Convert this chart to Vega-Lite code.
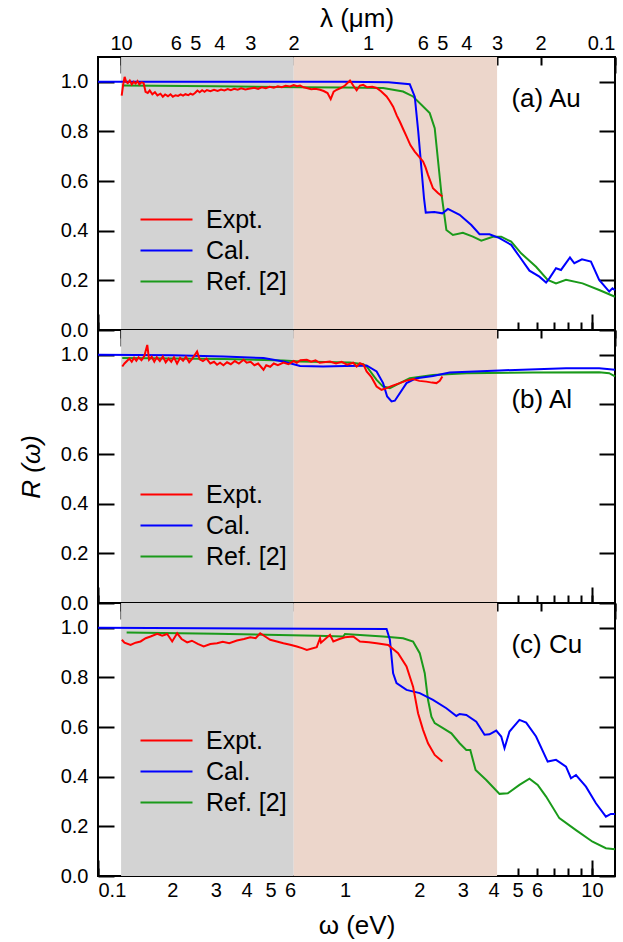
{
"$schema": "https://vega.github.io/schema/vega-lite/v6.json",
"padding": {"left": 17, "top": 4, "right": 0, "bottom": 0},
"datasets": {
"bands": [{"x": 0.124, "x2": 0.62, "band": "IR"}, {"x": 0.62, "x2": 4.13, "band": "vis"}],
"au": [
{"E":0.1254,"R":0.985,"series":"Ref. [2]"},{"E":0.3,"R":0.982,"series":"Ref. [2]"},{"E":0.658,"R":0.978,"series":"Ref. [2]"},{"E":1.0,"R":0.977,"series":"Ref. [2]"},{"E":1.427,"R":0.975,"series":"Ref. [2]"},{"E":1.719,"R":0.961,"series":"Ref. [2]"},{"E":1.887,"R":0.941,"series":"Ref. [2]"},{"E":2.204,"R":0.874,"series":"Ref. [2]"},{"E":2.309,"R":0.813,"series":"Ref. [2]"},{"E":2.38,"R":0.685,"series":"Ref. [2]"},{"E":2.457,"R":0.551,"series":"Ref. [2]"},{"E":2.574,"R":0.403,"series":"Ref. [2]"},{"E":2.736,"R":0.383,"series":"Ref. [2]"},{"E":3.003,"R":0.392,"series":"Ref. [2]"},{"E":3.296,"R":0.376,"series":"Ref. [2]"},{"E":3.564,"R":0.36,"series":"Ref. [2]"},{"E":3.97,"R":0.376,"series":"Ref. [2]"},{"E":4.293,"R":0.376,"series":"Ref. [2]"},{"E":4.71,"R":0.356,"series":"Ref. [2]"},{"E":5.169,"R":0.309,"series":"Ref. [2]"},{"E":5.94,"R":0.255,"series":"Ref. [2]"},{"E":6.62,"R":0.202,"series":"Ref. [2]"},{"E":7.155,"R":0.188,"series":"Ref. [2]"},{"E":7.853,"R":0.202,"series":"Ref. [2]"},{"E":9.163,"R":0.188,"series":"Ref. [2]"},{"E":10.7,"R":0.161,"series":"Ref. [2]"},{"E":12.4,"R":0.134,"series":"Ref. [2]"},
{"E":0.1,"R":1.0,"series":"Cal."},{"E":1.0,"R":1.0,"series":"Cal."},{"E":1.5,"R":0.998,"series":"Cal."},{"E":1.83,"R":0.99,"series":"Cal."},{"E":1.917,"R":0.94,"series":"Cal."},{"E":1.98,"R":0.8,"series":"Cal."},{"E":2.04,"R":0.65,"series":"Cal."},{"E":2.09,"R":0.53,"series":"Cal."},{"E":2.124,"R":0.473,"series":"Cal."},{"E":2.3,"R":0.475,"series":"Cal."},{"E":2.48,"R":0.47,"series":"Cal."},{"E":2.612,"R":0.488,"series":"Cal."},{"E":2.913,"R":0.464,"series":"Cal."},{"E":3.248,"R":0.423,"series":"Cal."},{"E":3.508,"R":0.386,"series":"Cal."},{"E":3.849,"R":0.386,"series":"Cal."},{"E":4.224,"R":0.37,"series":"Cal."},{"E":4.71,"R":0.343,"series":"Cal."},{"E":5.087,"R":0.296,"series":"Cal."},{"E":5.585,"R":0.239,"series":"Cal."},{"E":6.128,"R":0.215,"series":"Cal."},{"E":6.522,"R":0.191,"series":"Cal."},{"E":6.725,"R":0.208,"series":"Cal."},{"E":7.155,"R":0.249,"series":"Cal."},{"E":7.496,"R":0.242,"series":"Cal."},{"E":8.15,"R":0.292,"series":"Cal."},{"E":8.485,"R":0.269,"series":"Cal."},{"E":9.113,"R":0.285,"series":"Cal."},{"E":9.908,"R":0.276,"series":"Cal."},{"E":10.7,"R":0.202,"series":"Cal."},{"E":11.75,"R":0.155,"series":"Cal."},{"E":12.11,"R":0.168,"series":"Cal."},{"E":12.4,"R":0.16,"series":"Cal."},
{"E":0.1247,"R":0.944,"series":"Expt."},{"E":0.1265,"R":0.99,"series":"Expt."},{"E":0.1282,"R":1.02,"series":"Expt."},{"E":0.13,"R":1.0,"series":"Expt."},{"E":0.132,"R":0.995,"series":"Expt."},{"E":0.1345,"R":1.005,"series":"Expt."},{"E":0.137,"R":0.99,"series":"Expt."},{"E":0.1395,"R":1.0,"series":"Expt."},{"E":0.142,"R":0.993,"series":"Expt."},{"E":0.1445,"R":1.003,"series":"Expt."},{"E":0.147,"R":0.99,"series":"Expt."},{"E":0.15,"R":0.998,"series":"Expt."},{"E":0.153,"R":0.995,"series":"Expt."},{"E":0.1558,"R":0.96,"series":"Expt."},{"E":0.159,"R":0.955,"series":"Expt."},{"E":0.162,"R":0.965,"series":"Expt."},{"E":0.166,"R":0.95,"series":"Expt."},{"E":0.17,"R":0.958,"series":"Expt."},{"E":0.174,"R":0.945,"series":"Expt."},{"E":0.179,"R":0.952,"series":"Expt."},{"E":0.183,"R":0.94,"series":"Expt."},{"E":0.187,"R":0.949,"series":"Expt."},{"E":0.192,"R":0.942,"series":"Expt."},{"E":0.1966,"R":0.95,"series":"Expt."},{"E":0.201,"R":0.94,"series":"Expt."},{"E":0.206,"R":0.946,"series":"Expt."},{"E":0.211,"R":0.943,"series":"Expt."},{"E":0.216,"R":0.949,"series":"Expt."},{"E":0.221,"R":0.944,"series":"Expt."},{"E":0.226,"R":0.95,"series":"Expt."},{"E":0.232,"R":0.946,"series":"Expt."},{"E":0.2367,"R":0.952,"series":"Expt."},{"E":0.242,"R":0.948,"series":"Expt."},{"E":0.247,"R":0.955,"series":"Expt."},{"E":0.2527,"R":0.965,"series":"Expt."},{"E":0.258,"R":0.958,"series":"Expt."},{"E":0.264,"R":0.966,"series":"Expt."},{"E":0.27,"R":0.96,"series":"Expt."},{"E":0.276,"R":0.967,"series":"Expt."},{"E":0.2851,"R":0.962,"series":"Expt."},{"E":0.295,"R":0.968,"series":"Expt."},{"E":0.305,"R":0.963,"series":"Expt."},{"E":0.315,"R":0.969,"series":"Expt."},{"E":0.325,"R":0.965,"series":"Expt."},{"E":0.335,"R":0.971,"series":"Expt."},{"E":0.345,"R":0.966,"series":"Expt."},{"E":0.356,"R":0.972,"series":"Expt."},{"E":0.368,"R":0.968,"series":"Expt."},{"E":0.38,"R":0.974,"series":"Expt."},{"E":0.395,"R":0.969,"series":"Expt."},{"E":0.4135,"R":0.973,"series":"Expt."},{"E":0.43,"R":0.976,"series":"Expt."},{"E":0.445,"R":0.971,"series":"Expt."},{"E":0.46,"R":0.978,"series":"Expt."},{"E":0.478,"R":0.974,"series":"Expt."},{"E":0.495,"R":0.98,"series":"Expt."},{"E":0.515,"R":0.976,"series":"Expt."},{"E":0.535,"R":0.982,"series":"Expt."},{"E":0.555,"R":0.978,"series":"Expt."},{"E":0.575,"R":0.984,"series":"Expt."},{"E":0.5998,"R":0.981,"series":"Expt."},{"E":0.62,"R":0.987,"series":"Expt."},{"E":0.64,"R":0.982,"series":"Expt."},{"E":0.658,"R":0.985,"series":"Expt."},{"E":0.68,"R":0.978,"series":"Expt."},{"E":0.7,"R":0.975,"series":"Expt."},{"E":0.73,"R":0.97,"series":"Expt."},{"E":0.76,"R":0.972,"series":"Expt."},{"E":0.7925,"R":0.968,"series":"Expt."},{"E":0.82,"R":0.963,"series":"Expt."},{"E":0.85,"R":0.955,"series":"Expt."},{"E":0.8756,"R":0.93,"series":"Expt."},{"E":0.9,"R":0.96,"series":"Expt."},{"E":0.9258,"R":0.968,"series":"Expt."},{"E":0.96,"R":0.975,"series":"Expt."},{"E":1.0,"R":0.985,"series":"Expt."},{"E":1.048,"R":1.005,"series":"Expt."},{"E":1.08,"R":0.985,"series":"Expt."},{"E":1.115,"R":0.966,"series":"Expt."},{"E":1.15,"R":0.985,"series":"Expt."},{"E":1.186,"R":0.988,"series":"Expt."},{"E":1.23,"R":0.978,"series":"Expt."},{"E":1.29,"R":0.98,"series":"Expt."},{"E":1.343,"R":0.975,"series":"Expt."},{"E":1.4,"R":0.962,"series":"Expt."},{"E":1.474,"R":0.941,"series":"Expt."},{"E":1.52,"R":0.922,"series":"Expt."},{"E":1.567,"R":0.9,"series":"Expt."},{"E":1.62,"R":0.865,"series":"Expt."},{"E":1.667,"R":0.84,"series":"Expt."},{"E":1.72,"R":0.81,"series":"Expt."},{"E":1.775,"R":0.78,"series":"Expt."},{"E":1.84,"R":0.745,"series":"Expt."},{"E":1.917,"R":0.719,"series":"Expt."},{"E":1.99,"R":0.7,"series":"Expt."},{"E":2.071,"R":0.679,"series":"Expt."},{"E":2.12,"R":0.655,"series":"Expt."},{"E":2.169,"R":0.625,"series":"Expt."},{"E":2.22,"R":0.598,"series":"Expt."},{"E":2.272,"R":0.571,"series":"Expt."},{"E":2.38,"R":0.552,"series":"Expt."},{"E":2.48,"R":0.538,"series":"Expt."}
],
"al": [
{"E":0.1254,"R":0.987,"series":"Ref. [2]"},{"E":0.3226,"R":0.983,"series":"Ref. [2]"},{"E":0.5633,"R":0.977,"series":"Ref. [2]"},{"E":0.658,"R":0.973,"series":"Ref. [2]"},{"E":1.048,"R":0.969,"series":"Ref. [2]"},{"E":1.186,"R":0.962,"series":"Ref. [2]"},{"E":1.224,"R":0.953,"series":"Ref. [2]"},{"E":1.343,"R":0.899,"series":"Ref. [2]"},{"E":1.427,"R":0.872,"series":"Ref. [2]"},{"E":1.52,"R":0.866,"series":"Ref. [2]"},{"E":1.667,"R":0.886,"series":"Ref. [2]"},{"E":1.83,"R":0.906,"series":"Ref. [2]"},{"E":2.272,"R":0.919,"series":"Ref. [2]"},{"E":3.1,"R":0.926,"series":"Ref. [2]"},{"E":5.757,"R":0.929,"series":"Ref. [2]"},{"E":10.7,"R":0.93,"series":"Ref. [2]"},{"E":11.75,"R":0.926,"series":"Ref. [2]"},{"E":12.4,"R":0.913,"series":"Ref. [2]"},
{"E":0.1,"R":1.0,"series":"Cal."},{"E":0.2,"R":0.998,"series":"Cal."},{"E":0.3226,"R":0.993,"series":"Cal."},{"E":0.468,"R":0.987,"series":"Cal."},{"E":0.5633,"R":0.973,"series":"Cal."},{"E":0.658,"R":0.955,"series":"Cal."},{"E":0.815,"R":0.953,"series":"Cal."},{"E":1.0,"R":0.955,"series":"Cal."},{"E":1.186,"R":0.956,"series":"Cal."},{"E":1.224,"R":0.957,"series":"Cal."},{"E":1.343,"R":0.933,"series":"Cal."},{"E":1.427,"R":0.886,"series":"Cal."},{"E":1.482,"R":0.832,"series":"Cal."},{"E":1.544,"R":0.812,"series":"Cal."},{"E":1.592,"R":0.815,"series":"Cal."},{"E":1.775,"R":0.886,"series":"Cal."},{"E":1.948,"R":0.906,"series":"Cal."},{"E":2.272,"R":0.915,"series":"Cal."},{"E":2.654,"R":0.929,"series":"Cal."},{"E":4.224,"R":0.937,"series":"Cal."},{"E":7.853,"R":0.946,"series":"Cal."},{"E":10.7,"R":0.946,"series":"Cal."},{"E":12.4,"R":0.94,"series":"Cal."},
{"E":0.1254,"R":0.953,"series":"Expt."},{"E":0.128,"R":0.965,"series":"Expt."},{"E":0.131,"R":0.975,"series":"Expt."},{"E":0.134,"R":0.985,"series":"Expt."},{"E":0.137,"R":0.972,"series":"Expt."},{"E":0.14,"R":0.988,"series":"Expt."},{"E":0.143,"R":0.976,"series":"Expt."},{"E":0.146,"R":0.99,"series":"Expt."},{"E":0.15,"R":0.978,"series":"Expt."},{"E":0.154,"R":0.995,"series":"Expt."},{"E":0.1583,"R":1.04,"series":"Expt."},{"E":0.161,"R":0.98,"series":"Expt."},{"E":0.165,"R":0.992,"series":"Expt."},{"E":0.169,"R":0.972,"series":"Expt."},{"E":0.173,"R":0.99,"series":"Expt."},{"E":0.178,"R":0.975,"series":"Expt."},{"E":0.183,"R":0.993,"series":"Expt."},{"E":0.188,"R":0.97,"series":"Expt."},{"E":0.193,"R":0.985,"series":"Expt."},{"E":0.198,"R":0.972,"series":"Expt."},{"E":0.203,"R":0.99,"series":"Expt."},{"E":0.209,"R":0.965,"series":"Expt."},{"E":0.215,"R":0.988,"series":"Expt."},{"E":0.221,"R":0.976,"series":"Expt."},{"E":0.227,"R":0.992,"series":"Expt."},{"E":0.234,"R":0.97,"series":"Expt."},{"E":0.241,"R":0.985,"series":"Expt."},{"E":0.2519,"R":1.013,"series":"Expt."},{"E":0.258,"R":0.982,"series":"Expt."},{"E":0.266,"R":0.975,"series":"Expt."},{"E":0.275,"R":0.985,"series":"Expt."},{"E":0.285,"R":0.965,"series":"Expt."},{"E":0.295,"R":0.972,"series":"Expt."},{"E":0.3034,"R":0.96,"series":"Expt."},{"E":0.312,"R":0.968,"series":"Expt."},{"E":0.322,"R":0.958,"series":"Expt."},{"E":0.333,"R":0.97,"series":"Expt."},{"E":0.345,"R":0.962,"series":"Expt."},{"E":0.358,"R":0.975,"series":"Expt."},{"E":0.372,"R":0.965,"series":"Expt."},{"E":0.3885,"R":0.98,"series":"Expt."},{"E":0.4,"R":0.968,"series":"Expt."},{"E":0.415,"R":0.972,"series":"Expt."},{"E":0.43,"R":0.958,"series":"Expt."},{"E":0.445,"R":0.965,"series":"Expt."},{"E":0.468,"R":0.94,"series":"Expt."},{"E":0.48,"R":0.958,"series":"Expt."},{"E":0.4981,"R":0.952,"series":"Expt."},{"E":0.515,"R":0.965,"series":"Expt."},{"E":0.535,"R":0.958,"series":"Expt."},{"E":0.5633,"R":0.969,"series":"Expt."},{"E":0.59,"R":0.962,"series":"Expt."},{"E":0.62,"R":0.975,"series":"Expt."},{"E":0.6383,"R":0.968,"series":"Expt."},{"E":0.66,"R":0.978,"series":"Expt."},{"E":0.7005,"R":0.98,"series":"Expt."},{"E":0.73,"R":0.972,"series":"Expt."},{"E":0.76,"R":0.978,"series":"Expt."},{"E":0.79,"R":0.968,"series":"Expt."},{"E":0.8697,"R":0.973,"series":"Expt."},{"E":0.92,"R":0.965,"series":"Expt."},{"E":0.97,"R":0.972,"series":"Expt."},{"E":1.02,"R":0.96,"series":"Expt."},{"E":1.08,"R":0.968,"series":"Expt."},{"E":1.115,"R":0.953,"series":"Expt."},{"E":1.15,"R":0.966,"series":"Expt."},{"E":1.19,"R":0.96,"series":"Expt."},{"E":1.224,"R":0.933,"series":"Expt."},{"E":1.28,"R":0.91,"series":"Expt."},{"E":1.343,"R":0.872,"series":"Expt."},{"E":1.406,"R":0.859,"series":"Expt."},{"E":1.474,"R":0.866,"series":"Expt."},{"E":1.55,"R":0.875,"series":"Expt."},{"E":1.667,"R":0.886,"series":"Expt."},{"E":1.76,"R":0.895,"series":"Expt."},{"E":1.887,"R":0.902,"series":"Expt."},{"E":2.0,"R":0.895,"series":"Expt."},{"E":2.137,"R":0.892,"series":"Expt."},{"E":2.25,"R":0.888,"series":"Expt."},{"E":2.346,"R":0.886,"series":"Expt."},{"E":2.42,"R":0.895,"series":"Expt."},{"E":2.48,"R":0.913,"series":"Expt."}
],
"cu": [
{"E":0.1306,"R":0.981,"series":"Ref. [2]"},{"E":0.3,"R":0.976,"series":"Ref. [2]"},{"E":0.7686,"R":0.968,"series":"Ref. [2]"},{"E":0.9843,"R":0.965,"series":"Ref. [2]"},{"E":1.0,"R":0.975,"series":"Ref. [2]"},{"E":1.427,"R":0.965,"series":"Ref. [2]"},{"E":1.719,"R":0.958,"series":"Ref. [2]"},{"E":1.887,"R":0.945,"series":"Ref. [2]"},{"E":2.008,"R":0.898,"series":"Ref. [2]"},{"E":2.104,"R":0.817,"series":"Ref. [2]"},{"E":2.169,"R":0.71,"series":"Ref. [2]"},{"E":2.239,"R":0.642,"series":"Ref. [2]"},{"E":2.309,"R":0.616,"series":"Ref. [2]"},{"E":2.494,"R":0.596,"series":"Ref. [2]"},{"E":2.697,"R":0.575,"series":"Ref. [2]"},{"E":2.913,"R":0.535,"series":"Ref. [2]"},{"E":3.1,"R":0.508,"series":"Ref. [2]"},{"E":3.217,"R":0.508,"series":"Ref. [2]"},{"E":3.38,"R":0.427,"series":"Ref. [2]"},{"E":3.733,"R":0.387,"series":"Ref. [2]"},{"E":4.224,"R":0.331,"series":"Ref. [2]"},{"E":4.564,"R":0.333,"series":"Ref. [2]"},{"E":5.087,"R":0.367,"series":"Ref. [2]"},{"E":5.585,"R":0.392,"series":"Ref. [2]"},{"E":6.032,"R":0.367,"series":"Ref. [2]"},{"E":6.522,"R":0.32,"series":"Ref. [2]"},{"E":7.379,"R":0.233,"series":"Ref. [2]"},{"E":8.618,"R":0.185,"series":"Ref. [2]"},{"E":10.06,"R":0.138,"series":"Ref. [2]"},{"E":11.39,"R":0.112,"series":"Ref. [2]"},{"E":12.4,"R":0.108,"series":"Ref. [2]"},
{"E":0.1,"R":1.0,"series":"Cal."},{"E":1.474,"R":0.995,"series":"Cal."},{"E":1.52,"R":0.952,"series":"Cal."},{"E":1.567,"R":0.817,"series":"Cal."},{"E":1.617,"R":0.777,"series":"Cal."},{"E":1.775,"R":0.75,"series":"Cal."},{"E":2.008,"R":0.737,"series":"Cal."},{"E":2.272,"R":0.71,"series":"Cal."},{"E":2.574,"R":0.676,"series":"Cal."},{"E":2.825,"R":0.645,"series":"Cal."},{"E":2.913,"R":0.653,"series":"Cal."},{"E":3.1,"R":0.649,"series":"Cal."},{"E":3.402,"R":0.622,"series":"Cal."},{"E":3.674,"R":0.569,"series":"Cal."},{"E":3.849,"R":0.571,"series":"Cal."},{"E":4.097,"R":0.586,"series":"Cal."},{"E":4.293,"R":0.562,"series":"Cal."},{"E":4.426,"R":0.515,"series":"Cal."},{"E":4.636,"R":0.582,"series":"Cal."},{"E":5.087,"R":0.629,"series":"Cal."},{"E":5.416,"R":0.618,"series":"Cal."},{"E":5.94,"R":0.562,"series":"Cal."},{"E":6.62,"R":0.461,"series":"Cal."},{"E":7.155,"R":0.468,"series":"Cal."},{"E":7.853,"R":0.441,"series":"Cal."},{"E":8.226,"R":0.394,"series":"Cal."},{"E":8.618,"R":0.407,"series":"Cal."},{"E":9.459,"R":0.36,"series":"Cal."},{"E":10.38,"R":0.293,"series":"Cal."},{"E":11.39,"R":0.239,"series":"Cal."},{"E":11.93,"R":0.25,"series":"Cal."},{"E":12.4,"R":0.25,"series":"Cal."},
{"E":0.1249,"R":0.952,"series":"Expt."},{"E":0.128,"R":0.94,"series":"Expt."},{"E":0.1355,"R":0.931,"series":"Expt."},{"E":0.142,"R":0.94,"series":"Expt."},{"E":0.1487,"R":0.945,"series":"Expt."},{"E":0.156,"R":0.958,"series":"Expt."},{"E":0.1632,"R":0.965,"series":"Expt."},{"E":0.1737,"R":0.976,"series":"Expt."},{"E":0.182,"R":0.968,"series":"Expt."},{"E":0.1906,"R":0.975,"series":"Expt."},{"E":0.1997,"R":0.945,"series":"Expt."},{"E":0.2092,"R":0.978,"series":"Expt."},{"E":0.218,"R":0.955,"series":"Expt."},{"E":0.2296,"R":0.941,"series":"Expt."},{"E":0.24,"R":0.948,"series":"Expt."},{"E":0.2535,"R":0.935,"series":"Expt."},{"E":0.2679,"R":0.925,"series":"Expt."},{"E":0.285,"R":0.935,"series":"Expt."},{"E":0.3034,"R":0.938,"series":"Expt."},{"E":0.32,"R":0.944,"series":"Expt."},{"E":0.34,"R":0.938,"series":"Expt."},{"E":0.3653,"R":0.949,"series":"Expt."},{"E":0.39,"R":0.955,"series":"Expt."},{"E":0.4135,"R":0.962,"series":"Expt."},{"E":0.435,"R":0.958,"series":"Expt."},{"E":0.4536,"R":0.978,"series":"Expt."},{"E":0.475,"R":0.965,"series":"Expt."},{"E":0.4981,"R":0.952,"series":"Expt."},{"E":0.53,"R":0.945,"series":"Expt."},{"E":0.5633,"R":0.938,"series":"Expt."},{"E":0.6,"R":0.932,"series":"Expt."},{"E":0.6383,"R":0.925,"series":"Expt."},{"E":0.67,"R":0.918,"series":"Expt."},{"E":0.7005,"R":0.911,"series":"Expt."},{"E":0.7686,"R":0.922,"series":"Expt."},{"E":0.7925,"R":0.958,"series":"Expt."},{"E":0.8,"R":0.94,"series":"Expt."},{"E":0.8697,"R":0.972,"series":"Expt."},{"E":0.8971,"R":0.945,"series":"Expt."},{"E":0.95,"R":0.955,"series":"Expt."},{"E":1.0,"R":0.962,"series":"Expt."},{"E":1.08,"R":0.965,"series":"Expt."},{"E":1.15,"R":0.945,"series":"Expt."},{"E":1.25,"R":0.942,"series":"Expt."},{"E":1.343,"R":0.938,"series":"Expt."},{"E":1.496,"R":0.931,"series":"Expt."},{"E":1.641,"R":0.898,"series":"Expt."},{"E":1.775,"R":0.844,"series":"Expt."},{"E":1.887,"R":0.763,"series":"Expt."},{"E":1.977,"R":0.656,"series":"Expt."},{"E":2.071,"R":0.589,"series":"Expt."},{"E":2.169,"R":0.535,"series":"Expt."},{"E":2.309,"R":0.488,"series":"Expt."},{"E":2.48,"R":0.461,"series":"Expt."}
],
"labels_a": [{"text": "(a) Au"}],
"labels_b": [{"text": "(b) Al"}],
"labels_c": [{"text": "(c) Cu"}]
},
"spacing": 0,
"bounds": "flush",
"resolve": {"scale": {"color": "independent"}},
"vconcat": [
{
"width": 517, "height": 273,
"resolve": {"axis": {"x": "independent", "y": "independent"}},
"layer": [
{"data": {"name": "bands"}, "mark": "rect", "encoding": {
 "x": {"field": "x", "type": "quantitative", "scale": {"type": "log", "domain": [0.1, 12.4], "nice": false}, "axis": {"orient": "bottom", "values": [0.1, 1, 10], "tickSize": -16, "labels": false, "title": null}},
 "x2": {"field": "x2"},
 "fill": {"field": "band", "type": "nominal", "scale": {"domain": ["IR", "vis"], "range": ["#d3d3d3", "#ecd6cb"]}, "legend": null}}},
{"data": {"name": "au"}, "transform": [{"filter": "datum.series == 'Ref. [2]'"}], "mark": {"type": "line", "strokeWidth": 2}, "encoding": {
 "x": {"field": "E", "type": "quantitative", "scale": {"type": "log", "domain": [0.1, 12.4], "nice": false}, "axis": {"orient": "bottom", "values": [0.1,0.2,0.3,0.4,0.5,0.6,0.7,0.8,0.9,1,2,3,4,5,6,7,8,9,10], "tickSize": -8, "labels": false, "title": null}},
 "y": {"field": "R", "type": "quantitative", "scale": {"domain": [0, 1.1], "nice": false, "zero": false}, "axis": {"orient": "left", "values": [0,0.2,0.4,0.6,0.8,1.0], "format": ".1f", "tickSize": -16, "labelPadding": 26, "title": null}},
 "color": {"field": "series", "type": "nominal", "scale": {"domain": ["Expt.", "Cal.", "Ref. [2]"], "range": ["#ff0000", "#0000ff", "#1a9a1a"]}, "legend": {"orient": "none", "legendX": 56, "legendY": 150, "title": null, "padding": 0, "symbolType": "M-2.6,0H2.6", "symbolSize": 400, "symbolStrokeWidth": 2, "labelFontSize": 25, "labelOffset": 27, "rowPadding": 5, "labelColor": "black"}}}},
{"data": {"name": "au"}, "transform": [{"filter": "datum.series == 'Cal.'"}], "mark": {"type": "line", "strokeWidth": 2}, "encoding": {
 "x": {"field": "E", "type": "quantitative", "scale": {"type": "log", "domain": [0.1, 12.4], "nice": false}, "axis": {"orient": "top", "values": [0.12398, 1.23984, 12.3984], "tickSize": -16, "labels": false, "title": null}},
 "y": {"field": "R", "type": "quantitative", "scale": {"domain": [0, 1.1], "nice": false, "zero": false}, "axis": {"orient": "right", "values": [0,0.2,0.4,0.6,0.8,1.0], "tickSize": -16, "labels": false, "title": null}},
 "color": {"field": "series", "type": "nominal", "scale": {"domain": ["Expt.", "Cal.", "Ref. [2]"], "range": ["#ff0000", "#0000ff", "#1a9a1a"]}, "legend": {"orient": "none", "legendX": 56, "legendY": 150, "title": null, "padding": 0, "symbolType": "M-2.6,0H2.6", "symbolSize": 400, "symbolStrokeWidth": 2, "labelFontSize": 25, "labelOffset": 27, "rowPadding": 5, "labelColor": "black"}}}},
{"data": {"name": "au"}, "transform": [{"filter": "datum.series == 'Expt.'"}], "mark": {"type": "line", "strokeWidth": 2}, "encoding": {
 "x": {"field": "E", "type": "quantitative", "scale": {"type": "log", "domain": [0.1, 12.4], "nice": false}, "axis": {"orient": "top", "values": [0.12398,0.13776,0.15498,0.17712,0.20664,0.24797,0.30996,0.41328,0.61992,1.23984,1.37760,1.54980,1.77120,2.06640,2.47968,3.09960,4.13280,6.19920,12.3984], "tickSize": -8, "labels": true, "labelExpr": "round(1.23984/datum.value*10) == 100 ? '10' : round(1.23984/datum.value*10) == 10 ? '1' : round(1.23984/datum.value*10) == 1 ? '0.1' : (round(1.23984/datum.value*10) >= 70 || (round(1.23984/datum.value*10) >= 7 && round(1.23984/datum.value*10) <= 9)) ? '' : round(1.23984/datum.value*10) > 10 ? format(round(1.23984/datum.value*10)/10, 'd') : format(round(1.23984/datum.value*10), 'd')", "labelPadding": 12, "labelFlush": true, "title": "λ (μm)", "titlePadding": 2}},
 "y": {"field": "R", "type": "quantitative", "scale": {"domain": [0, 1.1], "nice": false, "zero": false}, "axis": null},
 "color": {"field": "series", "type": "nominal", "scale": {"domain": ["Expt.", "Cal.", "Ref. [2]"], "range": ["#ff0000", "#0000ff", "#1a9a1a"]}, "legend": {"orient": "none", "legendX": 56, "legendY": 150, "title": null, "padding": 0, "symbolType": "M-2.6,0H2.6", "symbolSize": 400, "symbolStrokeWidth": 2, "labelFontSize": 25, "labelOffset": 27, "rowPadding": 5, "labelColor": "black"}}}},
{"mark": {"type": "rule", "strokeDash": [13, 8], "strokeWidth": 2, "color": "black"}, "encoding": {"x": {"datum": 2.48, "type": "quantitative", "scale": {"type": "log", "domain": [0.1, 12.4], "nice": false}, "axis": null}}},
{"data": {"name": "labels_a"}, "mark": {"type": "text", "align": "left", "baseline": "middle", "fontSize": 26, "color": "black"}, "encoding": {
 "x": {"datum": 4.72, "type": "quantitative", "scale": {"type": "log", "domain": [0.1, 12.4], "nice": false}, "axis": null},
 "y": {"datum": 0.93, "type": "quantitative", "scale": {"domain": [0, 1.1], "nice": false, "zero": false}, "axis": null},
 "text": {"field": "text"}}}
]
},
{
"width": 517, "height": 273,
"resolve": {"axis": {"x": "independent", "y": "independent"}},
"layer": [
{"data": {"name": "bands"}, "mark": "rect", "encoding": {
 "x": {"field": "x", "type": "quantitative", "scale": {"type": "log", "domain": [0.1, 12.4], "nice": false}, "axis": {"orient": "bottom", "values": [0.1, 1, 10], "tickSize": -16, "labels": false, "title": null}},
 "x2": {"field": "x2"},
 "fill": {"field": "band", "type": "nominal", "scale": {"domain": ["IR", "vis"], "range": ["#d3d3d3", "#ecd6cb"]}, "legend": null}}},
{"data": {"name": "al"}, "transform": [{"filter": "datum.series == 'Ref. [2]'"}], "mark": {"type": "line", "strokeWidth": 2}, "encoding": {
 "x": {"field": "E", "type": "quantitative", "scale": {"type": "log", "domain": [0.1, 12.4], "nice": false}, "axis": {"orient": "bottom", "values": [0.1,0.2,0.3,0.4,0.5,0.6,0.7,0.8,0.9,1,2,3,4,5,6,7,8,9,10], "tickSize": -8, "labels": false, "title": null}},
 "y": {"field": "R", "type": "quantitative", "scale": {"domain": [0, 1.1], "nice": false, "zero": false}, "axis": {"orient": "left", "values": [0,0.2,0.4,0.6,0.8,1.0], "format": ".1f", "tickSize": -16, "labelPadding": 26, "title": "R (ω)", "titleFontStyle": "italic", "titlePadding": 16}},
 "color": {"field": "series", "type": "nominal", "scale": {"domain": ["Expt.", "Cal.", "Ref. [2]"], "range": ["#ff0000", "#0000ff", "#1a9a1a"]}, "legend": {"orient": "none", "legendX": 56, "legendY": 152, "title": null, "padding": 0, "symbolType": "M-2.6,0H2.6", "symbolSize": 400, "symbolStrokeWidth": 2, "labelFontSize": 25, "labelOffset": 27, "rowPadding": 5, "labelColor": "black"}}}},
{"data": {"name": "al"}, "transform": [{"filter": "datum.series == 'Cal.'"}], "mark": {"type": "line", "strokeWidth": 2}, "encoding": {
 "x": {"field": "E", "type": "quantitative", "scale": {"type": "log", "domain": [0.1, 12.4], "nice": false}, "axis": {"orient": "top", "values": [0.12398, 1.23984, 12.3984], "tickSize": -16, "labels": false, "title": null}},
 "y": {"field": "R", "type": "quantitative", "scale": {"domain": [0, 1.1], "nice": false, "zero": false}, "axis": {"orient": "right", "values": [0,0.2,0.4,0.6,0.8,1.0], "tickSize": -16, "labels": false, "title": null}},
 "color": {"field": "series", "type": "nominal", "scale": {"domain": ["Expt.", "Cal.", "Ref. [2]"], "range": ["#ff0000", "#0000ff", "#1a9a1a"]}, "legend": {"orient": "none", "legendX": 56, "legendY": 152, "title": null, "padding": 0, "symbolType": "M-2.6,0H2.6", "symbolSize": 400, "symbolStrokeWidth": 2, "labelFontSize": 25, "labelOffset": 27, "rowPadding": 5, "labelColor": "black"}}}},
{"data": {"name": "al"}, "transform": [{"filter": "datum.series == 'Expt.'"}], "mark": {"type": "line", "strokeWidth": 2}, "encoding": {
 "x": {"field": "E", "type": "quantitative", "scale": {"type": "log", "domain": [0.1, 12.4], "nice": false}, "axis": {"orient": "top", "values": [0.12398,0.13776,0.15498,0.17712,0.20664,0.24797,0.30996,0.41328,0.61992,1.23984,1.37760,1.54980,1.77120,2.06640,2.47968,3.09960,4.13280,6.19920,12.3984], "tickSize": -8, "labels": false, "title": null}},
 "y": {"field": "R", "type": "quantitative", "scale": {"domain": [0, 1.1], "nice": false, "zero": false}, "axis": null},
 "color": {"field": "series", "type": "nominal", "scale": {"domain": ["Expt.", "Cal.", "Ref. [2]"], "range": ["#ff0000", "#0000ff", "#1a9a1a"]}, "legend": {"orient": "none", "legendX": 56, "legendY": 152, "title": null, "padding": 0, "symbolType": "M-2.6,0H2.6", "symbolSize": 400, "symbolStrokeWidth": 2, "labelFontSize": 25, "labelOffset": 27, "rowPadding": 5, "labelColor": "black"}}}},
{"mark": {"type": "rule", "strokeDash": [13, 8], "strokeWidth": 2, "color": "black"}, "encoding": {"x": {"datum": 2.48, "type": "quantitative", "scale": {"type": "log", "domain": [0.1, 12.4], "nice": false}, "axis": null}}},
{"data": {"name": "labels_b"}, "mark": {"type": "text", "align": "left", "baseline": "middle", "fontSize": 26, "color": "black"}, "encoding": {
 "x": {"datum": 4.72, "type": "quantitative", "scale": {"type": "log", "domain": [0.1, 12.4], "nice": false}, "axis": null},
 "y": {"datum": 0.816, "type": "quantitative", "scale": {"domain": [0, 1.1], "nice": false, "zero": false}, "axis": null},
 "text": {"field": "text"}}}
]
},
{
"width": 517, "height": 273,
"resolve": {"axis": {"x": "independent", "y": "independent"}},
"layer": [
{"data": {"name": "bands"}, "mark": "rect", "encoding": {
 "x": {"field": "x", "type": "quantitative", "scale": {"type": "log", "domain": [0.1, 12.4], "nice": false}, "axis": {"orient": "bottom", "values": [0.1, 1, 10], "tickSize": -16, "labels": false, "title": null}},
 "x2": {"field": "x2"},
 "fill": {"field": "band", "type": "nominal", "scale": {"domain": ["IR", "vis"], "range": ["#d3d3d3", "#ecd6cb"]}, "legend": null}}},
{"data": {"name": "cu"}, "transform": [{"filter": "datum.series == 'Ref. [2]'"}], "mark": {"type": "line", "strokeWidth": 2}, "encoding": {
 "x": {"field": "E", "type": "quantitative", "scale": {"type": "log", "domain": [0.1, 12.4], "nice": false}, "axis": {"orient": "bottom", "values": [0.1,0.2,0.3,0.4,0.5,0.6,0.7,0.8,0.9,1,2,3,4,5,6,7,8,9,10], "tickSize": -8, "labels": true, "labelExpr": "datum.value == 0.1 ? '0.1' : datum.value == 1 ? '1' : datum.value == 10 ? '10' : datum.value < 0.65 ? format(datum.value*10, '.0f') : (datum.value > 1.5 && datum.value < 6.5) ? format(datum.value, '.0f') : ''", "labelPadding": 12, "labelFlush": true, "title": "ω (eV)", "titlePadding": 12}},
 "y": {"field": "R", "type": "quantitative", "scale": {"domain": [0, 1.1], "nice": false, "zero": false}, "axis": {"orient": "left", "values": [0,0.2,0.4,0.6,0.8,1.0], "format": ".1f", "tickSize": -16, "labelPadding": 26, "title": null}},
 "color": {"field": "series", "type": "nominal", "scale": {"domain": ["Expt.", "Cal.", "Ref. [2]"], "range": ["#ff0000", "#0000ff", "#1a9a1a"]}, "legend": {"orient": "none", "legendX": 56, "legendY": 125, "title": null, "padding": 0, "symbolType": "M-2.6,0H2.6", "symbolSize": 400, "symbolStrokeWidth": 2, "labelFontSize": 25, "labelOffset": 27, "rowPadding": 5, "labelColor": "black"}}}},
{"data": {"name": "cu"}, "transform": [{"filter": "datum.series == 'Cal.'"}], "mark": {"type": "line", "strokeWidth": 2}, "encoding": {
 "x": {"field": "E", "type": "quantitative", "scale": {"type": "log", "domain": [0.1, 12.4], "nice": false}, "axis": {"orient": "top", "values": [0.12398, 1.23984, 12.3984], "tickSize": -16, "labels": false, "title": null}},
 "y": {"field": "R", "type": "quantitative", "scale": {"domain": [0, 1.1], "nice": false, "zero": false}, "axis": {"orient": "right", "values": [0,0.2,0.4,0.6,0.8,1.0], "tickSize": -16, "labels": false, "title": null}},
 "color": {"field": "series", "type": "nominal", "scale": {"domain": ["Expt.", "Cal.", "Ref. [2]"], "range": ["#ff0000", "#0000ff", "#1a9a1a"]}, "legend": {"orient": "none", "legendX": 56, "legendY": 125, "title": null, "padding": 0, "symbolType": "M-2.6,0H2.6", "symbolSize": 400, "symbolStrokeWidth": 2, "labelFontSize": 25, "labelOffset": 27, "rowPadding": 5, "labelColor": "black"}}}},
{"data": {"name": "cu"}, "transform": [{"filter": "datum.series == 'Expt.'"}], "mark": {"type": "line", "strokeWidth": 2}, "encoding": {
 "x": {"field": "E", "type": "quantitative", "scale": {"type": "log", "domain": [0.1, 12.4], "nice": false}, "axis": {"orient": "top", "values": [0.12398,0.13776,0.15498,0.17712,0.20664,0.24797,0.30996,0.41328,0.61992,1.23984,1.37760,1.54980,1.77120,2.06640,2.47968,3.09960,4.13280,6.19920,12.3984], "tickSize": -8, "labels": false, "title": null}},
 "y": {"field": "R", "type": "quantitative", "scale": {"domain": [0, 1.1], "nice": false, "zero": false}, "axis": null},
 "color": {"field": "series", "type": "nominal", "scale": {"domain": ["Expt.", "Cal.", "Ref. [2]"], "range": ["#ff0000", "#0000ff", "#1a9a1a"]}, "legend": {"orient": "none", "legendX": 56, "legendY": 125, "title": null, "padding": 0, "symbolType": "M-2.6,0H2.6", "symbolSize": 400, "symbolStrokeWidth": 2, "labelFontSize": 25, "labelOffset": 27, "rowPadding": 5, "labelColor": "black"}}}},
{"mark": {"type": "rule", "strokeDash": [13, 8], "strokeWidth": 2, "color": "black"}, "encoding": {"x": {"datum": 2.48, "type": "quantitative", "scale": {"type": "log", "domain": [0.1, 12.4], "nice": false}, "axis": null}}},
{"data": {"name": "labels_c"}, "mark": {"type": "text", "align": "left", "baseline": "middle", "fontSize": 26, "color": "black"}, "encoding": {
 "x": {"datum": 4.72, "type": "quantitative", "scale": {"type": "log", "domain": [0.1, 12.4], "nice": false}, "axis": null},
 "y": {"datum": 0.93, "type": "quantitative", "scale": {"domain": [0, 1.1], "nice": false, "zero": false}, "axis": null},
 "text": {"field": "text"}}}
]
}
],
"config": {
 "font": "Liberation Sans",
 "view": {"stroke": "black", "strokeWidth": 2},
 "axis": {"grid": false, "domain": false, "tickColor": "black", "tickWidth": 2, "labelFont": "Liberation Sans", "labelFontSize": 20, "labelColor": "black", "titleFont": "Liberation Sans", "titleFontSize": 26, "titleFontWeight": "normal", "titleColor": "black", "labelOverlap": false, "labelBound": false},
 "legend": {"labelFont": "Liberation Sans"},
 "text": {"font": "Liberation Sans"}
}
}
